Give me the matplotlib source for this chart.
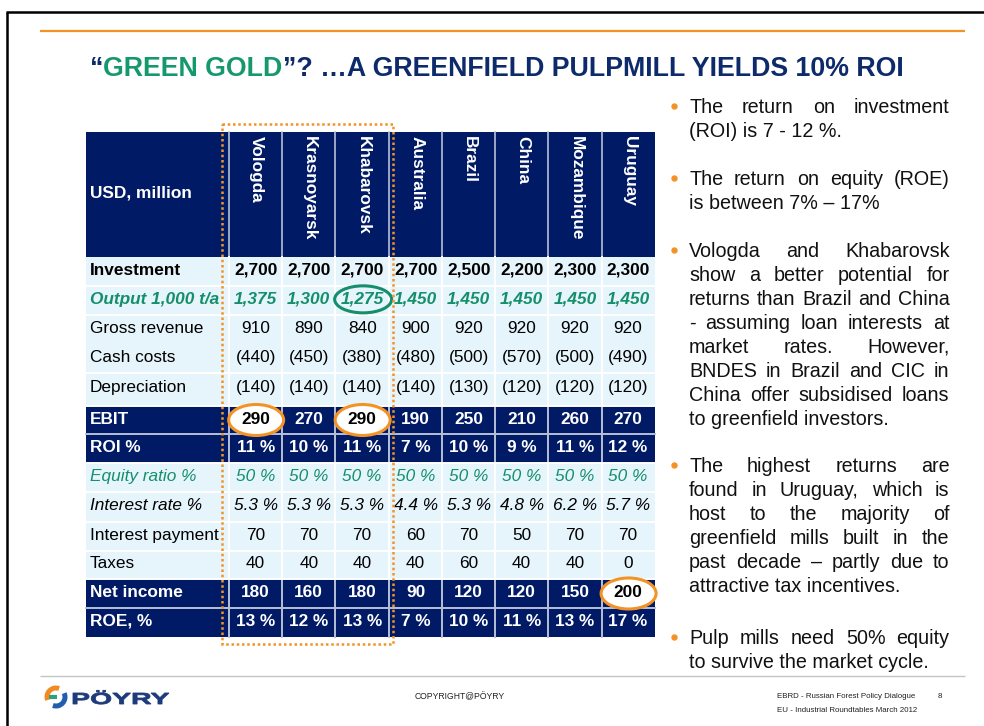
import matplotlib
matplotlib.use("Agg")
import matplotlib.pyplot as plt
from matplotlib.patches import Rectangle, Ellipse, Arc, PathPatch
from matplotlib.textpath import TextPath
from matplotlib.font_manager import FontProperties
from matplotlib.transforms import Affine2D

plt.rcParams["font.family"] = ["Liberation Sans", "DejaVu Sans"]

# === DATA ===
regions = ["Vologda", "Krasnoyarsk", "Khabarovsk", "Australia",
           "Brazil", "China", "Mozambique", "Uruguay"]
row_labels = ["Investment", "Output 1,000 t/a", "Gross revenue", "Cash costs",
              "Depreciation", "EBIT", "ROI %", "Equity ratio %", "Interest rate %",
              "Interest payment", "Taxes", "Net income", "ROE, %"]
investment = [2700, 2700, 2700, 2700, 2500, 2200, 2300, 2300]
output_kt = [1375, 1300, 1275, 1450, 1450, 1450, 1450, 1450]
gross_revenue = [910, 890, 840, 900, 920, 920, 920, 920]
cash_costs = [-440, -450, -380, -480, -500, -570, -500, -490]
depreciation = [-140, -140, -140, -140, -130, -120, -120, -120]
ebit = [290, 270, 290, 190, 250, 210, 260, 270]
roi_pct = [11, 10, 11, 7, 10, 9, 11, 12]
equity_ratio = [50, 50, 50, 50, 50, 50, 50, 50]
interest_rate = [5.3, 5.3, 5.3, 4.4, 5.3, 4.8, 6.2, 5.7]
interest_payment = [70, 70, 70, 60, 70, 50, 70, 70]
taxes = [40, 40, 40, 40, 60, 40, 40, 0]
net_income = [180, 160, 180, 90, 120, 120, 150, 200]
roe_pct = [13, 12, 13, 7, 10, 11, 13, 17]

# highlighted cells: (row label, region)
green_marks = [("Output 1,000 t/a", "Khabarovsk")]
orange_marks = [("EBIT", "Vologda"), ("EBIT", "Khabarovsk"), ("Net income", "Uruguay")]

bullets = [
    ["The return on investment", "(ROI) is 7 - 12 %."],
    ["The return on equity (ROE)", "is between 7% \u2013 17%"],
    ["Vologda and Khabarovsk", "show a better potential for",
     "returns than Brazil and China", "- assuming loan interests at",
     "market rates. However,", "BNDES in Brazil and CIC in",
     "China offer subsidised loans", "to greenfield investors."],
    ["The highest returns are", "found in Uruguay, which is",
     "host to the majority of", "greenfield mills built in the",
     "past decade \u2013 partly due to", "attractive tax incentives."],
    ["Pulp mills need 50% equity", "to survive the market cycle."],
]

# === STYLE ===
navy = "#011a66"
light = "#e6f4fc"
green = "#158f6b"
orange = "#f39325"
title_navy = "#0d2a6b"
title_green = "#15986e"
hdr_sep = "#b8c0d8"


def money(v):
    return f"({-v:,})" if v < 0 else f"{v:,}"


rows = [
    ([f"{v:,}" for v in investment], dict(weight="bold", color="black"), False),
    ([f"{v:,}" for v in output_kt], dict(weight="bold", style="italic", color=green), False),
    ([money(v) for v in gross_revenue], dict(color="black"), False),
    ([money(v) for v in cash_costs], dict(color="black"), False),
    ([money(v) for v in depreciation], dict(color="black"), False),
    ([money(v) for v in ebit], dict(weight="bold", color="white"), True),
    ([f"{v} %" for v in roi_pct], dict(weight="bold", color="white"), True),
    ([f"{v} %" for v in equity_ratio], dict(style="italic", color=green), False),
    ([f"{v:.1f} %" for v in interest_rate], dict(style="italic", color="black"), False),
    ([f"{v}" for v in interest_payment], dict(color="black"), False),
    ([f"{v}" for v in taxes], dict(color="black"), False),
    ([f"{v}" for v in net_income], dict(weight="bold", color="white"), True),
    ([f"{v} %" for v in roe_pct], dict(weight="bold", color="white"), True),
]

# table layout in pixels
col_edges = [86, 229, 282.3, 335.3, 389, 442.3, 495, 548.3, 601.7, 654.5]
head_top = 131.7
row_edges = [256.7, 285.7, 315, 344, 373, 406, 434, 462.7, 492, 521.7,
             550.7, 579, 608, 636.7]
fs_tab = 12.4

fig = plt.figure(figsize=(9.84, 7.26), dpi=100)
ax = fig.add_axes([0, 0, 1, 1])
ax.set_xlim(0, 984)
ax.set_ylim(726, 0)
ax.axis("off")
renderer = fig.canvas.get_renderer()

# slide frame and rules
ax.plot([6, 984], [12, 12], color="black", lw=1.8, solid_capstyle="butt")
ax.plot([7, 7], [12, 726], color="black", lw=1.8, solid_capstyle="butt")
ax.plot([40, 965], [31, 31], color=orange, lw=1.6, solid_capstyle="butt")
ax.plot([40, 965], [676, 676], color="#c4c4c4", lw=1.0, solid_capstyle="butt")

# title
tx, ty = 90, 76
for part, c in [("\u201c", title_navy), ("GREEN GOLD", title_green),
                ("\u201d? \u2026A GREENFIELD PULPMILL YIELDS 10% ROI", title_navy)]:
    t = ax.text(tx, ty, part, fontsize=19.3, weight="bold", color=c, va="baseline", ha="left")
    tx += t.get_window_extent(renderer).width

# --- table backgrounds ---
x0, x1 = col_edges[0], col_edges[-1]
ax.add_patch(Rectangle((x0, head_top), x1 - x0, row_edges[0] - head_top, fc=navy, ec="none"))
for i, (vals, kw, dark) in enumerate(rows):
    top, bot = row_edges[i], row_edges[i + 1]
    ax.add_patch(Rectangle((x0, top), x1 - x0, bot - top, fc=navy if dark else light, ec="none"))

# separators
for xe in col_edges[1:-1]:
    ax.plot([xe, xe], [head_top, row_edges[0]], color=hdr_sep, lw=1.2)
    for i, (vals, kw, dark) in enumerate(rows):
        ax.plot([xe, xe], [row_edges[i], row_edges[i + 1]],
                color=hdr_sep if dark else "white", lw=1.4)
for i in range(1, len(rows)):
    if row_labels[i] == "Cash costs":
        continue
    dark = rows[i][2] and rows[i - 1][2]
    ax.plot([x0, x1], [row_edges[i]] * 2, color=hdr_sep if dark else "white", lw=1.4)

# header texts
ax.text(90, 193, "USD, million", fontsize=fs_tab, weight="bold", color="white",
        ha="left", va="center")
for j, name in enumerate(regions):
    cx = (col_edges[j + 1] + col_edges[j + 2]) / 2
    ax.text(cx + 1, 136, name, fontsize=fs_tab, weight="bold", color="white",
            rotation=270, ha="center", va="top")

# body texts
for i, (vals, kw, dark) in enumerate(rows):
    cy = (row_edges[i] + row_edges[i + 1]) / 2 - 1
    if row_labels[i] == "Depreciation":
        cy -= 1
    ax.text(90, cy, row_labels[i], fontsize=fs_tab, ha="left", va="center", **kw)
    for j, s in enumerate(vals):
        cx = (col_edges[j + 1] + col_edges[j + 2]) / 2
        k = dict(kw)
        if (row_labels[i], regions[j]) in orange_marks:
            k["color"] = "black"
            ax.add_patch(Ellipse((cx + 0.5, cy + 1), 55, 31, fc="white", ec=orange, lw=2.2, zorder=3))
        if (row_labels[i], regions[j]) in green_marks:
            ax.add_patch(Ellipse((cx + 1, cy), 57, 27, fc="none", ec=green, lw=2.2, zorder=3))
        ax.text(cx, cy, s, fontsize=fs_tab, ha="center", va="center", zorder=4, **k)

# dotted highlight frame around the Russian sites
ax.add_patch(Rectangle((222, 123.5), 171, 520.5, fc="none", ec=orange, lw=1.8,
                       ls=(0, (1, 1.1)), zorder=5))

# --- bullet text, justified ---
fs_b = 14.2
left, right = 689, 949.5
first_centers = [106, 178, 250, 465, 637]
line_h = 24


def wid(s):
    t = ax.text(0, 0, s, fontsize=fs_b)
    w = t.get_window_extent(renderer).width
    t.remove()
    return w


for para, yc in zip(bullets, first_centers):
    ax.plot(674, yc, "o", color=orange, ms=4.6, mec="none")
    for k, line in enumerate(para):
        yb = yc + 6.7 + k * line_h
        words = line.split(" ")
        if k == len(para) - 1 or len(words) == 1:
            ax.text(left, yb, line, fontsize=fs_b, ha="left", va="baseline", color="#111111")
            continue
        ws = [wid(w) for w in words]
        gap = (right - left - sum(ws)) / (len(words) - 1)
        x = left
        for w, wd in zip(words, ws):
            ax.text(x, yb, w, fontsize=fs_b, ha="left", va="baseline", color="#111111")
            x += wd + gap

# --- footer ---
# logo mark
def arc(a1, a2, col):
    ax.add_patch(Arc((56, 697), 18, 18, theta1=-a2, theta2=-a1, color=col, lw=3.6))

arc(70, 200, "#f08a24")
arc(250, 385, "#1f5fae")
ax.plot([49, 57], [697, 697], color="#2aa37a", lw=3.0, solid_capstyle="butt")

fp = FontProperties(family="Liberation Sans", weight="bold")
tp = TextPath((0, 0), "P\u00d6YRY", size=16, prop=fp)
bb = tp.get_extents()
sx = 96 / bb.width
tp = tp.transformed(Affine2D().translate(-bb.x0, 0).scale(sx, -1.0).translate(73, 704))
ax.add_patch(PathPatch(tp, fc="#1d3a7a", ec="#1d3a7a", lw=0.6))

ax.text(415, 697, "COPYRIGHT@P\u00d6YRY", fontsize=6.2, ha="left", va="center", color="#222222")
ax.text(777, 697, "EBRD - Russian Forest Policy Dialogue", fontsize=5.7, ha="left",
        va="center", color="#222222")
ax.text(938, 697, "8", fontsize=5.7, ha="left", va="center", color="#222222")
ax.text(777, 711, "EU - Industrial Roundtables March 2012", fontsize=5.7, ha="left",
        va="center", color="#222222")

fig.savefig("out.png", dpi=100)
